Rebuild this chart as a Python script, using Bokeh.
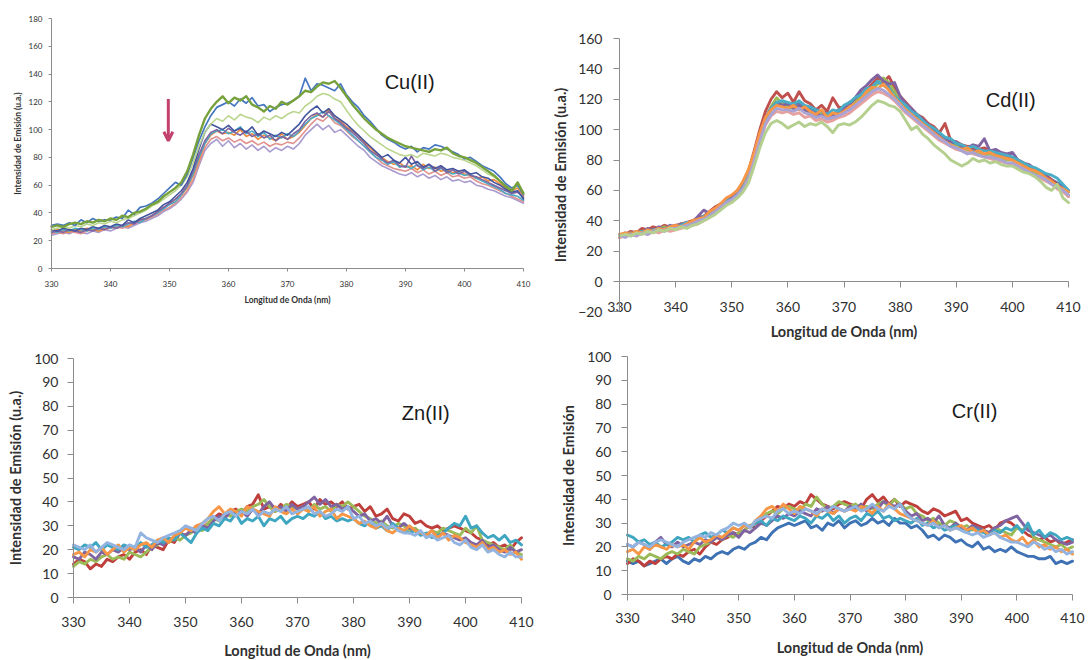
from bokeh.plotting import figure
from bokeh.layouts import row, column
from bokeh.models import Range1d, SingleIntervalTicker, Label, Arrow, OpenHead
from bokeh.embed import file_html
from bokeh.resources import INLINE

# ---------------- data ----------------
wavelength = list(range(330, 411))  # nm, 1 nm step

# Cu(II)
cu_green = [30,31,30,32,33,32,34,33,35,34,
            36,35,38,37,40,41,43,46,48,52,
            55,58,62,70,82,96,108,115,120,124,
            119,123,121,124,118,116,113,117,115,120,
            118,121,124,128,127,131,134,133,135,130,
            124,118,113,108,104,100,97,94,92,90,
            88,87,86,85,84,86,85,87,83,81,
            80,78,76,73,70,67,63,59,56,62,
            54]
cu_blue = [31,32,31,33,31,35,33,36,34,35,
           35,37,36,42,39,44,45,47,50,54,
           58,62,60,68,80,92,102,110,116,118,
           120,117,122,119,123,117,118,113,116,118,
           119,121,124,137,128,133,132,130,128,133,
           125,120,116,110,106,101,96,93,91,88,
           86,88,84,87,86,89,88,86,84,82,
           79,80,77,74,72,70,66,61,58,60,
           53]
cu_lightgreen = [28,29,30,29,31,30,32,31,33,32,
                 34,33,35,36,38,40,42,45,47,50,
                 53,56,60,66,76,88,98,104,108,106,
                 110,107,111,109,108,105,109,107,110,108,
                 111,113,112,117,120,124,126,125,122,120,
                 114,108,103,99,95,92,89,86,84,82,
                 81,82,80,83,82,81,83,82,80,79,
                 78,76,74,71,68,66,63,60,57,59,
                 55]
cu_darkblue = [28,27,29,28,27,29,28,30,29,31,
               30,32,31,35,33,36,38,40,42,46,
               48,52,56,62,72,86,98,104,102,100,
               103,99,101,98,102,96,99,97,95,98,
               96,100,104,110,114,117,112,115,110,107,
               104,100,96,92,88,84,80,82,78,76,
               80,75,77,73,75,72,74,71,72,70,
               71,68,69,66,65,62,60,57,55,56,
               50]
cu_purple = [26,27,26,28,27,26,28,27,29,28,
             30,29,31,33,32,35,36,38,41,44,
             47,50,54,60,70,82,92,98,100,97,
             101,98,96,99,95,97,94,96,92,95,
             93,97,100,106,110,112,109,113,108,105,
             101,98,94,90,85,82,79,76,78,74,
             73,81,74,72,75,70,73,69,71,68,
             70,67,66,64,62,60,58,56,54,55,
             51]
cu_teal = [27,26,28,27,29,28,27,29,28,30,
           29,31,30,32,34,33,36,38,40,43,
           46,48,53,59,68,80,90,97,99,100,
           97,99,102,97,99,95,98,93,96,94,
           97,95,99,104,108,110,113,110,107,104,
           100,96,92,88,84,80,78,75,77,73,
           74,72,75,71,73,70,72,70,68,69,
           67,68,65,63,61,59,57,54,53,52,
           49]
cu_orange = [27,28,27,26,28,27,29,28,27,29,
             30,29,31,30,33,35,36,38,41,44,
             46,50,53,58,67,78,90,96,99,97,
             98,96,100,95,97,93,96,94,92,97,
             93,95,98,103,108,111,109,115,108,106,
             102,99,96,91,87,83,80,77,75,76,
             73,74,71,75,72,73,70,71,69,70,
             68,67,65,66,63,64,61,58,56,58,
             52]
cu_pink = [25,26,25,27,26,25,27,28,27,28,
           29,30,29,31,32,34,35,37,39,42,
           44,47,51,56,64,76,87,93,95,92,
           94,91,93,90,92,89,91,88,90,89,
           91,90,94,99,104,108,106,110,105,103,
           99,95,92,88,84,80,76,74,72,71,
           70,72,69,71,68,70,67,69,66,67,
           65,66,63,61,60,58,56,54,52,50,
           48]
cu_lavender = [24,25,26,25,27,26,25,27,26,28,
               27,29,30,29,31,33,34,36,38,41,
               43,46,50,55,62,74,85,90,93,88,
               92,87,90,86,89,85,88,84,87,85,
               88,86,90,96,100,104,100,103,98,100,
               96,92,88,85,80,77,74,72,70,68,
               67,69,66,68,65,67,64,66,63,64,
               62,63,60,59,57,56,54,52,51,49,
               47]

# Cd(II)
cd_blue = [31,30,32,31,34,33,35,34,36,35,
           37,36,38,39,40,42,44,47,50,52,
           55,58,62,69,80,94,106,113,117,118,
           117,116,118,115,114,112,110,112,109,113,
           115,117,120,122,126,129,131,130,128,124,
           120,116,113,109,106,104,100,97,94,92,
           90,89,88,87,86,87,85,84,83,82,
           81,79,77,75,73,71,69,67,65,63,
           60]
cd_red = [29,31,33,32,35,34,36,35,37,36,
          37,38,39,40,42,43,46,49,51,54,
          56,60,65,73,86,100,112,120,125,121,
          124,118,125,119,117,113,116,112,121,115,
          114,118,120,124,126,130,134,131,135,128,
          122,118,114,110,108,104,102,98,104,93,
          92,90,89,88,87,88,86,85,84,83,
          81,80,78,76,74,72,70,67,64,60,
          56]
cd_green = [30,31,32,31,33,34,33,35,36,35,
            36,38,37,39,40,42,44,46,49,52,
            54,57,62,69,82,96,107,115,121,117,
            115,114,116,112,111,109,110,108,107,110,
            112,114,118,121,124,127,130,134,131,125,
            119,114,110,107,104,101,98,95,93,90,
            89,87,86,85,84,83,84,82,81,80,
            80,78,76,73,72,70,67,65,62,60,
            57]
cd_purple = [30,32,31,33,32,35,33,36,34,37,
             36,38,37,39,43,47,45,48,50,54,
             56,59,64,71,84,97,108,114,118,116,
             117,114,116,113,112,110,109,111,108,112,
             114,117,121,126,129,133,136,132,130,131,
             122,117,114,110,107,103,100,97,94,92,
             92,89,88,90,89,94,86,87,85,84,
             85,80,78,77,74,72,69,66,63,62,
             59]
cd_teal = [30,31,30,32,33,32,34,35,34,36,
           36,37,39,38,40,43,44,47,49,53,
           54,57,62,70,83,96,107,114,118,119,
           118,117,119,116,115,113,112,110,113,112,
           116,118,121,123,127,128,132,129,127,122,
           119,116,112,110,106,103,101,98,95,94,
           91,90,88,89,87,86,86,85,84,83,
           82,80,78,76,75,73,71,70,68,64,
           60]
cd_orange = [31,32,31,33,32,34,33,35,34,36,
             37,36,38,40,41,42,46,48,51,55,
             57,60,66,74,85,98,108,113,116,115,
             114,116,113,115,112,110,113,108,111,110,
             112,115,117,120,125,128,127,130,126,121,
             117,113,110,107,104,101,98,95,92,90,
             88,87,88,85,86,84,85,83,82,81,
             80,78,76,74,73,71,68,66,63,61,
             59]
cd_pink = [29,30,31,30,32,31,33,32,34,33,
           34,35,36,37,38,40,42,45,48,51,
           53,56,61,68,80,93,103,109,112,111,
           112,110,111,108,109,106,107,105,106,108,
           109,111,114,117,120,123,125,124,122,119,
           115,111,108,105,102,99,96,93,91,89,
           87,86,85,84,83,82,81,80,79,78,
           77,75,74,72,70,68,66,64,61,59,
           56]
cd_lavender = [30,29,31,30,32,31,33,34,33,35,
               35,36,37,38,40,41,43,46,49,52,
               54,57,61,67,79,92,104,110,114,113,
               113,112,114,111,110,108,109,107,108,109,
               111,113,116,119,122,125,127,126,123,120,
               116,112,109,106,103,100,97,94,92,89,
               88,86,84,85,83,82,82,81,80,78,
               78,76,74,72,70,69,67,64,62,60,
               57]
cd_lightgreen = [30,31,30,32,31,33,32,34,33,35,
                 34,36,35,37,38,40,42,44,47,50,
                 52,55,59,65,76,88,98,104,106,104,
                 101,103,105,102,104,103,105,102,98,103,
                 104,103,105,108,112,116,119,118,116,115,
                 112,106,100,102,97,94,90,87,84,80,
                 78,76,78,81,79,80,78,79,77,76,
                 76,74,72,71,69,66,62,60,64,55,
                 52]

# Zn(II)
zn_red = [14,16,15,12,14,13,16,15,17,18,
          16,19,20,18,22,21,20,24,23,27,
          26,28,30,29,31,33,35,34,36,37,
          35,38,39,43,37,38,36,39,37,40,
          38,39,40,37,41,39,40,38,40,37,
          38,39,36,38,34,35,37,33,32,35,
          34,31,32,30,29,30,28,29,30,29,
          28,27,25,24,22,23,21,22,20,23,
          25]
zn_green = [13,15,14,16,15,17,18,16,17,16,
            19,18,17,19,21,22,24,23,25,24,
            26,27,29,28,31,33,32,35,34,36,
            37,36,38,39,41,38,36,37,39,38,
            37,38,36,39,37,38,36,39,38,40,
            38,36,34,33,31,32,30,29,31,30,
            28,29,27,26,28,27,29,28,27,26,
            29,27,30,24,23,22,21,20,22,19,
            18]
zn_purple = [17,16,19,18,16,19,18,20,19,21,
             20,21,19,22,20,23,22,24,25,27,
             26,28,27,30,29,32,34,33,36,35,
             36,34,37,35,38,40,37,38,36,39,
             37,38,40,42,39,41,38,39,37,38,
             36,34,35,32,33,31,34,30,29,31,
             29,28,27,26,28,25,27,26,25,24,
             25,23,22,24,21,22,20,19,21,19,
             20]
zn_teal = [21,20,22,21,23,20,22,21,20,22,
           21,20,23,21,22,24,23,25,24,27,
           25,23,27,29,28,31,30,33,32,35,
           31,33,32,34,30,33,32,34,31,33,
           34,33,35,34,36,33,34,32,33,32,
           33,31,30,32,29,30,28,31,29,28,
           27,28,26,27,25,26,27,29,31,30,
           34,29,30,27,25,26,24,26,23,24,
           22]
zn_orange = [18,19,17,20,19,21,18,20,22,19,
             21,20,22,23,21,24,25,23,26,27,
             29,28,30,31,33,36,38,35,37,36,
             34,38,37,36,35,34,38,36,35,37,
             35,37,36,38,34,36,37,33,35,34,
             33,31,32,30,29,31,28,27,29,28,
             30,28,27,26,28,25,27,24,26,25,
             23,22,21,23,20,21,19,20,18,19,
             16]
zn_lightblue = [22,21,20,22,19,21,23,22,21,20,
                22,21,27,25,24,23,25,26,27,28,
                30,29,28,31,33,34,32,35,36,34,
                36,35,37,34,36,35,37,36,38,35,
                36,37,38,35,36,34,35,37,36,38,
                33,34,31,32,30,31,29,30,28,27,
                27,26,28,25,26,24,25,26,23,22,
                24,21,20,22,19,20,18,17,19,17,
                17]

# Cr(II)
cr_blue = [14,13,14,12,13,14,15,13,15,16,
           14,13,15,14,16,15,17,18,17,19,
           20,19,21,22,24,23,26,28,29,30,
           29,30,31,28,29,27,30,29,31,28,
           30,31,29,30,32,30,31,29,32,30,
           30,28,29,27,24,25,23,25,24,22,
           23,21,20,22,19,20,18,19,18,20,
           18,17,16,16,15,15,16,13,14,13,
           14]
cr_red = [13,15,14,12,14,13,15,16,15,17,
          16,18,19,17,20,22,21,23,24,26,
          25,27,29,28,31,33,35,37,36,38,
          37,39,38,42,40,38,37,36,38,39,
          38,37,36,40,42,39,41,38,40,37,
          39,38,37,35,34,36,35,33,34,35,
          31,32,30,29,28,29,27,30,31,30,
          28,27,25,24,23,24,22,23,21,22,
          23]
cr_green = [15,14,16,15,17,16,15,17,18,17,
            19,18,17,20,21,22,24,23,25,24,
            26,27,29,30,32,34,35,34,36,37,
            36,35,38,37,41,38,36,37,39,38,
            37,38,36,37,36,38,39,37,40,38,
            36,37,34,33,31,32,30,29,31,30,
            28,29,27,28,27,26,28,27,26,25,
            28,27,29,24,23,22,21,20,21,19,
            20]
cr_purple = [21,20,22,21,19,22,24,21,20,22,
             20,21,22,21,23,22,24,23,25,26,
             24,27,26,28,30,29,31,33,32,34,
             33,35,34,33,36,35,37,34,36,35,
             37,36,38,35,37,36,39,38,37,38,
             35,33,34,31,32,30,33,29,28,30,
             28,27,29,28,27,26,28,29,31,32,
             33,30,27,26,25,24,25,23,22,21,
             22]
cr_teal = [25,24,22,23,21,22,20,21,22,24,
           23,24,22,25,26,24,25,27,26,28,
           27,29,28,30,31,29,32,31,33,32,
           31,33,32,30,33,32,34,31,33,30,
           32,33,31,34,33,35,32,33,31,32,
           31,30,32,29,30,28,29,27,28,29,
           27,26,28,27,26,25,27,26,28,27,
           29,26,30,25,27,24,26,25,23,24,
           23]
cr_orange = [18,19,17,20,19,21,20,19,21,20,
             21,19,22,24,22,23,25,24,26,28,
             27,29,28,31,33,36,37,35,38,36,
             34,37,36,35,33,36,35,34,36,35,
             36,35,37,36,34,37,35,38,36,34,
             33,32,31,30,29,31,28,29,27,28,
             29,27,28,26,27,25,26,24,25,23,
             22,24,21,23,20,21,19,20,18,19,
             17]
cr_lightblue = [21,20,22,21,20,22,23,22,21,20,
                22,23,24,25,24,26,25,27,28,30,
                29,30,28,31,32,33,32,35,36,34,
                35,34,36,35,34,36,35,37,36,35,
                36,37,35,36,38,36,35,37,36,38,
                34,32,31,30,29,30,28,29,27,28,
                27,26,25,26,24,25,26,24,23,22,
                22,21,20,22,21,19,20,18,19,17,
                18]

x_ticks_step = 10
axis_title_x = "Longitud de Onda (nm)"
axis_title_y = "Intensidad de Emisión (u.a.)"
axis_title_y_cr = "Intensidad de Emisión"

# ---------------- styles ----------------
C = dict(blue="#4F81BD", red="#C0504D", green="#9BBB59", purple="#8064A2",
         teal="#4BACC6", orange="#F79646", lightblue="#95B3D7",
         pink="#E6A19E", lavender="#ABA3D4", lightgreen="#B4CF8E")

cu_lines = [(cu_lavender, "#A99BCF", 1.6), (cu_pink, "#E0928F", 1.6),
            (cu_orange, "#F08A3C", 1.6), (cu_teal, "#4BACC6", 1.6),
            (cu_purple, "#8064A2", 1.6), (cu_darkblue, "#44559F", 1.6),
            (cu_lightgreen, "#BAD68F", 1.6), (cu_blue, "#4677C0", 1.7),
            (cu_green, "#77A13B", 2.4)]
cd_lines = [(cd_blue, C["blue"], 2.9), (cd_red, C["red"], 2.9),
            (cd_green, C["green"], 2.9), (cd_purple, C["purple"], 2.9),
            (cd_teal, C["teal"], 2.9), (cd_orange, C["orange"], 2.9),
            (cd_pink, C["pink"], 2.9), (cd_lavender, C["lavender"], 2.9),
            (cd_lightgreen, C["lightgreen"], 2.9)]
zn_lines = [(zn_red, "#BE3F3B", 2.9), (zn_green, C["green"], 2.9),
            (zn_purple, C["purple"], 2.9), (zn_teal, "#3FA6C2", 2.9),
            (zn_orange, C["orange"], 2.9), (zn_lightblue, "#93B4E0", 2.9)]
cr_lines = [(cr_blue, "#3F72B4", 2.9), (cr_red, "#BE3F3B", 2.9),
            (cr_green, C["green"], 2.9), (cr_purple, C["purple"], 2.9),
            (cr_teal, "#3FA6C2", 2.9), (cr_orange, C["orange"], 2.9),
            (cr_lightblue, "#93B4E0", 2.9)]

TICK_FONT = "Lato"
TITLE_FONT = "Lato"
AX_COL = "#8C8C8C"
LAB_COL = "#303030"


def lin_range(v0, p0, v1, p1, lo_px, hi_px):
    """values found at pixels lo_px and hi_px of a linear scale through (p0,v0),(p1,v1)"""
    k = (v1 - v0) / (p1 - p0)
    return v0 + (lo_px - p0) * k, v0 + (hi_px - p0) * k


def make_panel(geom, yb, ystep, tick_fs, title_fs, tick_out,
               y_lab_so, y_title_so, x_lab_so, x_title_so, ytitle, lines):
    # geom: figure origin/size and the pixel places of the axis ends
    ox, oy, w, h, px0, px1, py0, py1 = geom
    xs, xe = lin_range(330, px0 - ox, 410, px1 - ox, 0, w)
    ytop, ybot = lin_range(yb[0], py0 - oy, yb[1], py1 - oy, 0, h)
    p = figure(width=w, height=h,
               min_border_left=0, min_border_right=0,
               min_border_top=0, min_border_bottom=0,
               x_range=Range1d(xs, xe), y_range=Range1d(ybot, ytop),
               output_backend="svg", toolbar_location=None)
    p.outline_line_color = None
    p.xgrid.visible = False
    p.ygrid.visible = False
    p.background_fill_color = "white"
    p.border_fill_color = "white"
    p.xaxis.ticker = SingleIntervalTicker(interval=x_ticks_step)
    p.yaxis.ticker = SingleIntervalTicker(interval=ystep)
    p.xaxis.fixed_location = 0
    p.yaxis.fixed_location = 330
    p.xaxis.bounds = (330, 410)
    p.yaxis.bounds = yb
    for ax in (p.xaxis[0], p.yaxis[0]):
        ax.axis_line_color = AX_COL
        ax.axis_line_width = 1
        ax.major_tick_line_color = AX_COL
        ax.minor_tick_line_color = None
        ax.major_tick_in = 0
        ax.major_tick_out = tick_out
        ax.major_label_text_font = TICK_FONT
        ax.major_label_text_font_size = tick_fs
        ax.major_label_text_color = LAB_COL
        ax.axis_label_text_font = TITLE_FONT
        ax.axis_label_text_font_size = title_fs
        ax.axis_label_text_font_style = "bold"
        ax.axis_label_text_color = LAB_COL
    p.xaxis.axis_label = axis_title_x
    p.yaxis.axis_label = ytitle
    p.yaxis.major_label_standoff = y_lab_so
    p.xaxis.major_label_standoff = x_lab_so
    p.yaxis.axis_label_standoff = y_title_so
    p.xaxis.axis_label_standoff = x_title_so
    for ys, col, lw in lines:
        n = min(len(wavelength), len(ys))
        p.line(wavelength[:n], ys[:n], line_color=col, line_width=lw,
               line_join="round", line_cap="round")
    return p


def add_name(p, x, y, text):
    p.add_layout(Label(x=x, y=y, text=text, text_font="Liberation Sans",
                       text_font_size="20px", text_color="#1A1A1A",
                       text_align="center", text_baseline="middle"))


# geometry: (origin x, origin y, width, height, px of 330, px of 410, px of y-min tick, px of y-max tick)
G_CU = (0, 0, 540, 342, 51, 523, 268, 18)
G_CD = (540, 0, 547, 342, 619, 1068, 311.4, 38)
G_ZN = (0, 342, 540, 317, 73, 521, 597, 358)
G_CR = (540, 342, 547, 317, 627, 1072, 594, 356)

p_cu = make_panel(G_CU, (0, 180), 20, "8px", "8.5px", 3, 5, 3, 8, 5,
                  axis_title_y, cu_lines)
add_name(p_cu, 390.7, 134.6, "Cu(II)")
p_cu.add_layout(Arrow(end=OpenHead(size=9, line_color="#C2416F", line_width=3),
                      x_start=349.8, y_start=122.0, x_end=349.8, y_end=92.0,
                      line_color="#C2416F", line_width=3))

p_cd = make_panel(G_CD, (-20, 160), 20, "14px", "14.5px", 6, 11, 6, 14, 8,
                  axis_title_y, cd_lines)
add_name(p_cd, 399.7, 119.2, "Cd(II)")

p_zn = make_panel(G_ZN, (0, 100), 10, "14px", "14.5px", 6, 9, 7, 13, 12,
                  axis_title_y, zn_lines)
add_name(p_zn, 392.9, 77.4, "Zn(II)")

p_cr = make_panel(G_CR, (0, 100), 10, "14px", "14.5px", 6, 10, 7, 12, 13,
                  axis_title_y_cr, cr_lines)
add_name(p_cr, 392.4, 77.3, "Cr(II)")

layout = column(row(p_cu, p_cd), row(p_zn, p_cr))

open("out.html", "w").write(file_html(layout, INLINE))
